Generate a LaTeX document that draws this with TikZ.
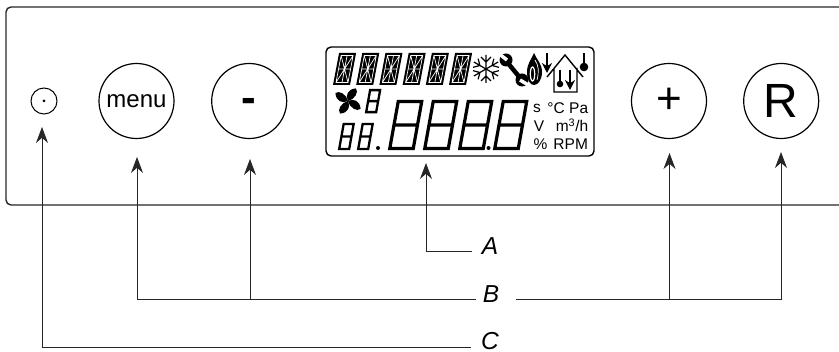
\documentclass[tikz,border=0pt]{standalone}
\usepackage{fontspec}
\setmainfont{Liberation Sans}
\usetikzlibrary{arrows.meta,positioning}
\begin{document}
\begin{tikzpicture}[x=1pt,y=-1pt,
  panel/.style={line width=1.4pt, black!85},
  btn/.style={circle, draw, line width=1.2pt, minimum size=75pt, inner sep=0pt, font=\fontsize{24}{24}\selectfont},
  led/.style={circle, draw, line width=1pt, minimum size=26pt, inner sep=0pt},
  lab/.style={inner sep=0pt, font=\fontsize{24.5}{24.5}\selectfont\itshape},
  unit/.style={inner sep=0pt, font=\fontsize{15.5}{16}\selectfont},
  arr/.style={-{Stealth[length=16pt,width=12pt]}, line width=.9pt, black!85},
  seg/.style={line width=2.3pt, black, line join=miter},
  icon/.style={line width=1.4pt, black},
  digitbig/.pic={\draw[seg,line width=3.2pt] (1.5,-1.5) rectangle (25,-48.5) (1.5,-25) -- (25,-25);},
  digitsmall/.pic={\draw[seg] (1,-1) rectangle (11,-26) (1,-13.5) -- (11,-13.5);},
  digitstar/.pic={
    \fill[black] (0,0) rectangle (17,-32);
    \draw[white,line width=.7pt] (2.5,-2.5) rectangle (14.5,-29.5)
      (8.5,-2.5) -- (8.5,-29.5) (2.5,-16) -- (14.5,-16)
      (2.5,-2.5) -- (14.5,-29.5) (14.5,-2.5) -- (2.5,-29.5);},
  ]
  \useasboundingbox (0,0) rectangle (839,352);

  % front panel, open on the right
  \draw[panel, rounded corners=5pt] (839,7) -- (6,7) -- (6,205) -- (839,205);

  % buttons
  \node[led] (dot) at (44,101) {};
  \fill (dot.center) circle (1.5);
  \node[btn] (menu) at (136.5,101) {menu};
  \node[btn, right=36.5pt of menu] (minus) {\fontsize{44}{44}\selectfont\bfseries\vphantom{x}-};
  \node[btn] (plus) at (669,101) {\fontsize{44}{44}\selectfont +};
  \node[btn, right=36pt of plus] (reset) {\fontsize{48}{48}\selectfont R};

  % display
  \node[draw, line width=1.4pt, rounded corners=5pt, minimum width=268pt, minimum height=109pt, inner sep=0pt] (lcd) at (460,101.5) {};
  \foreach \x in {0,...,5}
    \pic[xslant=.19] at (333+\x*23.2,85) {digitstar};
  \foreach \x in {0,...,3}
    \pic[xslant=.18] at (388+\x*35,150) {digitbig};
  \foreach \x/\y in {338/150,357/150}
    \pic[xslant=.18] at (\x,\y) {digitsmall};
  \pic[xslant=.18, yscale=.88] at (365,113) {digitsmall};
  \fill (378,148) circle (2) (488.5,148) circle (2);

  % fan
  \foreach \a in {10,100,190,280}
    \fill[rotate around={\a:(348,101)}] (348,101) .. controls (346,95) and (350,89) .. (358,90) .. controls (360,94) and (356,100) .. (348,101);
  % snowflake
  \foreach \a in {0,60,120} {
    \draw[line width=1.2pt, rotate around={\a:(486,69)}] (486,55) -- (486,83)
      (481,57) -- (486,62) -- (491,57) (481,81) -- (486,76) -- (491,81);
  }
  % wrench
  \draw[line width=4.5pt] (507,62) -- (521,79);
  \fill (506,60) circle (6.5) (522,80) circle (6.5);
  \draw[white, line width=3.5pt] (507,60) -- (498,53) (520,80) -- (530,86);
  % flame
  \fill (534,53) .. controls (537,60) and (542,64) .. (542,72) .. controls (542,80) and (538,85) .. (534,85) .. controls (530,85) and (527,80) .. (527,72) .. controls (527,64) and (531,60) .. (534,53);
  \draw[white, line width=1.2pt] (532.5,74) ellipse (2.2 and 7);
  \draw[white, line width=.7pt] (535,60) .. controls (539,66) and (539,72) .. (537,80);
  % arrow beside the flame
  \draw[-{Stealth[length=10pt,width=10pt]}, line width=2.6pt] (547,53) -- (547,73);
  % house
  \draw[icon] (547,77) -- (565,55) -- (583,77) (554,68) -- (554,92) -- (577,92) -- (577,68);
  \draw[line width=1.8pt] (560,70) -- (560,84);
  \fill (560,84) circle (3.3);
  \draw[-{Stealth[length=10pt,width=10pt]}, line width=2.6pt] (570,70) -- (570,90);
  % thermometer
  \draw[line width=2.6pt] (584,53) -- (584,66);
  \fill (584,67) circle (4.3);

  % units
  \node[unit] (us) at (537,108.5) {s};
  \node[unit] (uc) at (556,108.5) {°C};
  \node[unit] (upa) at (578.7,108.5) {Pa};
  \node[unit] (uv) at (539,126) {V};
  \node[unit] (um) at (572,125) {m\textsuperscript{3}/h};
  \node[unit] (upc) at (540.5,144) {\%};
  \node[unit] (urpm) at (570.7,144) {RPM};

  % labels and leaders
  \node[lab] (laba) at (490,246) {A};
  \node[lab] (labb) at (491,294) {B};
  \node[lab] (labc) at (490,341.5) {C};
  \coordinate (enda) at (472,251);
  \coordinate (endbl) at (476,299.5);
  \coordinate (endbr) at (516,299.5);
  \coordinate (endc) at (471,347);
  \coordinate (tipdot) at (42,127);
  \coordinate (tipmenu) at (137,157);
  \coordinate (tipminus) at (250,159);
  \coordinate (tiplcd) at (426,163);
  \coordinate (tipplus) at (669.5,153);
  \coordinate (tipreset) at (781,152);

  \draw[arr] (enda) -| (tiplcd);
  \draw[arr] (endbl) -| (tipmenu);
  \draw[arr] (tipminus |- endbl) -- (tipminus);
  \draw[arr] (endbr) -| (tipreset);
  \draw[arr] (tipplus |- endbr) -- (tipplus);
  \draw[arr] (endc) -| (tipdot);
\end{tikzpicture}
\end{document}
